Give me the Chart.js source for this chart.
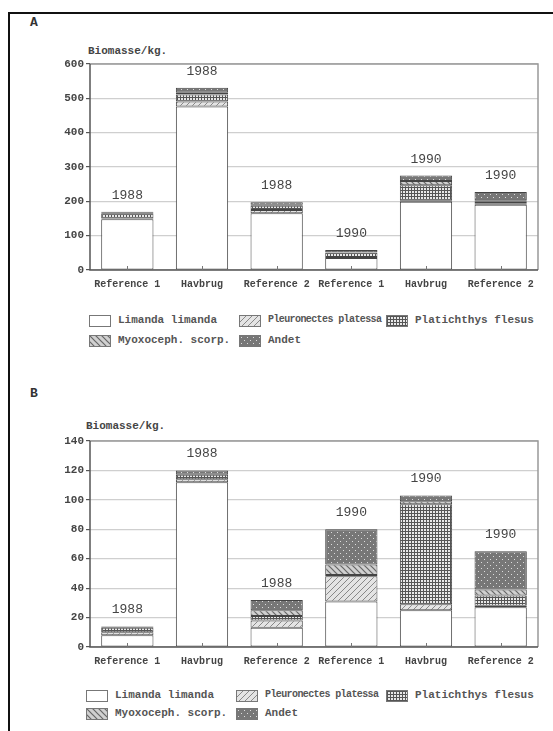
<!DOCTYPE html>
<html>
<head>
<meta charset="utf-8">
<script src="https://cdn.jsdelivr.net/npm/chart.js@4/dist/chart.umd.min.js"></script>
<style>
	body { margin: 0; background: #fff; width: 553px; height: 731px; overflow: hidden; position: relative; font-family: "Liberation Mono", monospace; }
	#frame { position: absolute; left: 8px; top: 12px; width: 560px; height: 740px; border-left: 2px solid #111; border-top: 2px solid #111; }
	.panel { position: absolute; font-weight: bold; color: #333; font-size: 13px; }
	.ylab { position: absolute; font-weight: bold; color: #444; font-size: 11px; }
	.chartBox { position: absolute; left: 0; width: 553px; }
	.legend { position: absolute; font-size: 11px; font-weight: bold; color: #555; }
	.legend .item { position: absolute; white-space: nowrap; }
	.legend canvas { position: absolute; top: 0; border: 1px solid #777; }
	.legend span { position: absolute; top: -1px; }
</style>
</head>
<body>
<div id="frame"></div>
<div class="panel" style="left:30px;top:15px">A</div>
<div class="ylab" style="left:88px;top:45px">Biomasse/kg.</div>
<div class="chartBox" style="top:40px;height:260px"><canvas id="chartA"></canvas></div>
<div class="legend" id="legendA" style="left:0;top:315px"></div>

<div class="panel" style="left:30px;top:386px">B</div>
<div class="ylab" style="left:86px;top:420px">Biomasse/kg.</div>
<div class="chartBox" style="top:417px;height:260px"><canvas id="chartB"></canvas></div>
<div class="legend" id="legendB" style="left:0;top:690px"></div>

<script>
const categories = ['Reference 1', 'Havbrug', 'Reference 2', 'Reference 1', 'Havbrug', 'Reference 2'];
const years = ['1988', '1988', '1988', '1990', '1990', '1990'];
const species = ['Limanda limanda', 'Pleuronectes platessa', 'Platichthys flesus', 'Myoxoceph. scorp.', 'Andet'];

// A
const limandaA = [148, 476, 165, 35, 199, 190];
const pleuroA = [2, 15, 10, 3, 3, 3];
const platiA = [15, 20, 12, 12, 45, 6];
const myoxoA = [2, 5, 3, 2, 12, 4];
const andetA = [3, 15, 7, 6, 16, 24];
const ticksA = [0, 100, 200, 300, 400, 500, 600];

// B
const limandaB = [8, 112, 13, 31, 25, 27];
const pleuroB = [2, 2, 5, 17, 4, 1];
const platiB = [3, 3, 3, 1, 68, 7];
const myoxoB = [0, 0, 4, 7, 2, 4];
const andetB = [1, 3, 7, 24, 4, 26];
const ticksB = [0, 20, 40, 60, 80, 100, 120, 140];

function makePattern(kind) {
	const c = document.createElement('canvas');
	const s = 6;
	c.width = s; c.height = s;
	const g = c.getContext('2d');
	if (kind === 0) {
		g.fillStyle = '#fff'; g.fillRect(0, 0, s, s);
	} else if (kind === 1) {
		g.fillStyle = '#e4e4e4'; g.fillRect(0, 0, s, s);
		g.strokeStyle = '#888'; g.lineWidth = 1;
		g.beginPath(); g.moveTo(0, s); g.lineTo(s, 0); g.moveTo(-1, 1); g.lineTo(1, -1); g.moveTo(s - 1, s + 1); g.lineTo(s + 1, s - 1); g.stroke();
	} else if (kind === 2) {
		g.fillStyle = '#e8e8e8'; g.fillRect(0, 0, s, s);
		g.fillStyle = '#555';
		g.fillRect(0, 0, s, 1); g.fillRect(0, 3, s, 1);
		g.fillRect(0, 0, 1, s); g.fillRect(3, 0, 1, s);
	} else if (kind === 3) {
		g.fillStyle = '#d0d0d0'; g.fillRect(0, 0, s, s);
		g.strokeStyle = '#666'; g.lineWidth = 1.2;
		g.beginPath(); g.moveTo(0, 0); g.lineTo(s, s); g.moveTo(-1, s - 1); g.lineTo(1, s + 1); g.moveTo(s - 1, -1); g.lineTo(s + 1, 1); g.stroke();
	} else {
		g.fillStyle = '#777'; g.fillRect(0, 0, s, s);
		g.fillStyle = '#ddd';
		g.fillRect(1, 1, 1, 1); g.fillRect(4, 4, 1, 1);
	}
	return document.createElement('canvas').getContext('2d').createPattern(c, 'repeat');
}
const fills = [0, 1, 2, 3, 4].map(makePattern);

const frameAndYears = {
	id: 'frameAndYears',
	afterDatasetsDraw(chart) {
		const ctx = chart.ctx;
		const a = chart.chartArea;
		ctx.save();
		ctx.strokeStyle = '#999';
		ctx.lineWidth = 1.5;
		ctx.beginPath();
		ctx.moveTo(a.left, a.top); ctx.lineTo(a.right, a.top); ctx.lineTo(a.right, a.bottom);
		ctx.stroke();
		ctx.strokeStyle = '#555';
		ctx.beginPath(); ctx.moveTo(a.left, a.top); ctx.lineTo(a.left, a.bottom); ctx.lineTo(a.right, a.bottom); ctx.stroke();
		// small tick marks at the category centres
		const x = chart.scales.x;
		ctx.strokeStyle = '#777';
		ctx.lineWidth = 1;
		categories.forEach((c, i) => {
			const px = Math.round(x.getPixelForTick(i)) + 0.5;
			ctx.beginPath(); ctx.moveTo(px, a.bottom); ctx.lineTo(px, a.bottom - 4); ctx.stroke();
		});
		const last = chart.getDatasetMeta(chart.data.datasets.length - 1);
		ctx.fillStyle = '#444';
		ctx.font = '13px "Liberation Mono"';
		ctx.textAlign = 'center';
		ctx.textBaseline = 'bottom';
		last.data.forEach((bar, i) => {
			ctx.fillText(years[i], bar.x, bar.y - 10);
		});
		ctx.restore();
	}
};

function makeChart(id, series, ticks) {
	const max = ticks[ticks.length - 1];
	const step = ticks[1] - ticks[0];
	return new Chart(document.getElementById(id), {
		type: 'bar',
		data: {
			labels: categories,
			datasets: series.map((d, i) => ({
				label: species[i],
				data: d,
				backgroundColor: fills[i],
				borderColor: '#444',
				borderWidth: 1,
				borderSkipped: false,
				categoryPercentage: 0.7,
				barPercentage: 1
			}))
		},
		options: {
			responsive: true,
			maintainAspectRatio: false,
			animation: false,
			layout: { padding: { top: 24, right: 15, left: 0, bottom: 0 } },
			plugins: { legend: { display: false }, tooltip: { enabled: false } },
			scales: {
				x: {
					stacked: true,
					grid: { display: false },
					border: { display: false },
					ticks: { color: '#444', font: { family: 'Liberation Mono', size: 10, weight: 'bold' }, maxRotation: 0, autoSkip: false, padding: 0 },
					afterFit(s) { s.height = 30; }
				},
				y: {
					stacked: true,
					min: 0,
					max: max,
					grid: { color: '#cfcfcf', lineWidth: 1.2, tickLength: 4, tickColor: '#555' },
					border: { display: false },
					ticks: { stepSize: step, color: '#444', font: { family: 'Liberation Mono', size: 11, weight: 'bold' }, padding: 2 },
					afterFit(s) { s.width = 90; }
				}
			}
		},
		plugins: [frameAndYears]
	});
}

makeChart('chartA', [limandaA, pleuroA, platiA, myoxoA, andetA], ticksA);
makeChart('chartB', [limandaB, pleuroB, platiB, myoxoB, andetB], ticksB);

function buildLegend(id, pos) {
	const el = document.getElementById(id);
	species.forEach((name, i) => {
		const p = pos[i];
		const item = document.createElement('div');
		item.className = 'item';
		item.style.left = p[0] + 'px';
		item.style.top = p[1] + 'px';
		const sw = document.createElement('canvas');
		sw.width = 20; sw.height = 10;
		const g = sw.getContext('2d');
		g.fillStyle = fills[i]; g.fillRect(0, 0, 20, 10);
		sw.style.left = '0px';
		const t = document.createElement('span');
		t.textContent = name;
		t.style.left = '29px';
		if (i === 1) { t.style.fontSize = '10px'; t.style.letterSpacing = '-0.6px'; }
		item.appendChild(sw);
		item.appendChild(t);
		el.appendChild(item);
	});
}
buildLegend('legendA', [[89, 0], [239, 0], [386, 0], [89, 20], [239, 20]]);
buildLegend('legendB', [[86, 0], [236, 0], [386, 0], [86, 18], [236, 18]]);
</script>
</body>
</html>
